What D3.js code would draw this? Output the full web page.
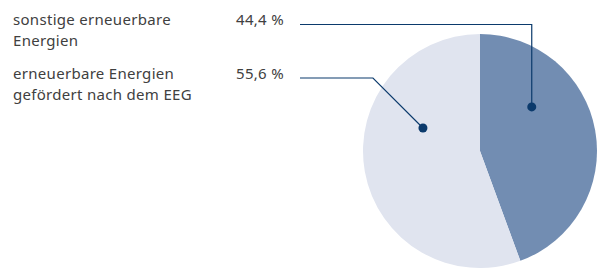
<!DOCTYPE html>
<html>
<head>
<meta charset="utf-8">
<script src="https://cdn.jsdelivr.net/npm/d3@7"></script>
<style>
  body { margin: 0; background: #fff; }
  svg text { font-family: "Noto Sans", sans-serif; font-size: 15px; letter-spacing: 0.3px; fill: #404040; }
</style>
</head>
<body>
<svg id="chart" width="600" height="268"></svg>
<script>
// shares of renewable energies
var categories = ["sonstige erneuerbare|Energien", "erneuerbare Energien|gefördert nach dem EEG"];
var values = [44.4, 55.6];
var valueLabels = ["44,4 %", "55,6 %"];
var colors = ["#728db2", "#e0e4ef"];

var W = 600, H = 268;
var cx = 480, cy = 151, radius = 117;
var lineColor = "#0b3a6c";

var svg = d3.select("#chart");

var pie = d3.pie().sort(null).value(function(d) { return d; });
var arcs = pie(values);
var arc = d3.arc().innerRadius(0).outerRadius(radius);

var g = svg.append("g").attr("transform", "translate(" + cx + "," + cy + ")");
g.selectAll("path")
    .data(arcs)
    .enter()
    .append("path")
    .attr("d", arc)
    .attr("fill", function(d, i) { return colors[i]; });

// legend text on the left
var rowY = [25, 79]; // baseline of first line of each label
var legend = svg.selectAll("g.legend")
    .data(categories)
    .enter()
    .append("g")
    .attr("class", "legend");

legend.each(function(d, i) {
    var lines = d.split("|");
    var t = d3.select(this).append("text")
        .attr("x", 13)
        .attr("y", rowY[i]);
    lines.forEach(function(l, j) {
        t.append("tspan").attr("x", 13).attr("dy", j ? 21 : 0).text(l);
    });
    d3.select(this).append("text")
        .attr("x", 236)
        .attr("y", rowY[i])
        .text(valueLabels[i]);
});

// leader lines: dot placed inside each slice
function polar(angle, r) {
    return [cx + r * Math.sin(angle), cy - r * Math.cos(angle)];
}
// dark slice: dot at a fraction of its angle span
var a0 = arcs[0].startAngle + (arcs[0].endAngle - arcs[0].startAngle) * 0.31;
var p0 = polar(a0, 68);
// light slice
var a1 = arcs[1].startAngle + (arcs[1].endAngle - arcs[1].startAngle) * 0.66;
var p1 = polar(a1, 61.5);

var lineY = [rowY[0] - 0.5, rowY[1] - 1];
var leaders = [
    [[300, lineY[0]], [p0[0], lineY[0]], p0],
    [[300, lineY[1]], [p1[0] - (p1[1] - lineY[1]), lineY[1]], p1]
];

svg.selectAll("path.leader")
    .data(leaders)
    .enter()
    .append("path")
    .attr("class", "leader")
    .attr("d", d3.line())
    .attr("fill", "none")
    .attr("stroke", lineColor)
    .attr("stroke-width", 1.2);

svg.selectAll("circle.dot")
    .data([p0, p1])
    .enter()
    .append("circle")
    .attr("class", "dot")
    .attr("cx", function(d) { return d[0]; })
    .attr("cy", function(d) { return d[1]; })
    .attr("r", 4.5)
    .attr("fill", lineColor);
</script>
</body>
</html>
